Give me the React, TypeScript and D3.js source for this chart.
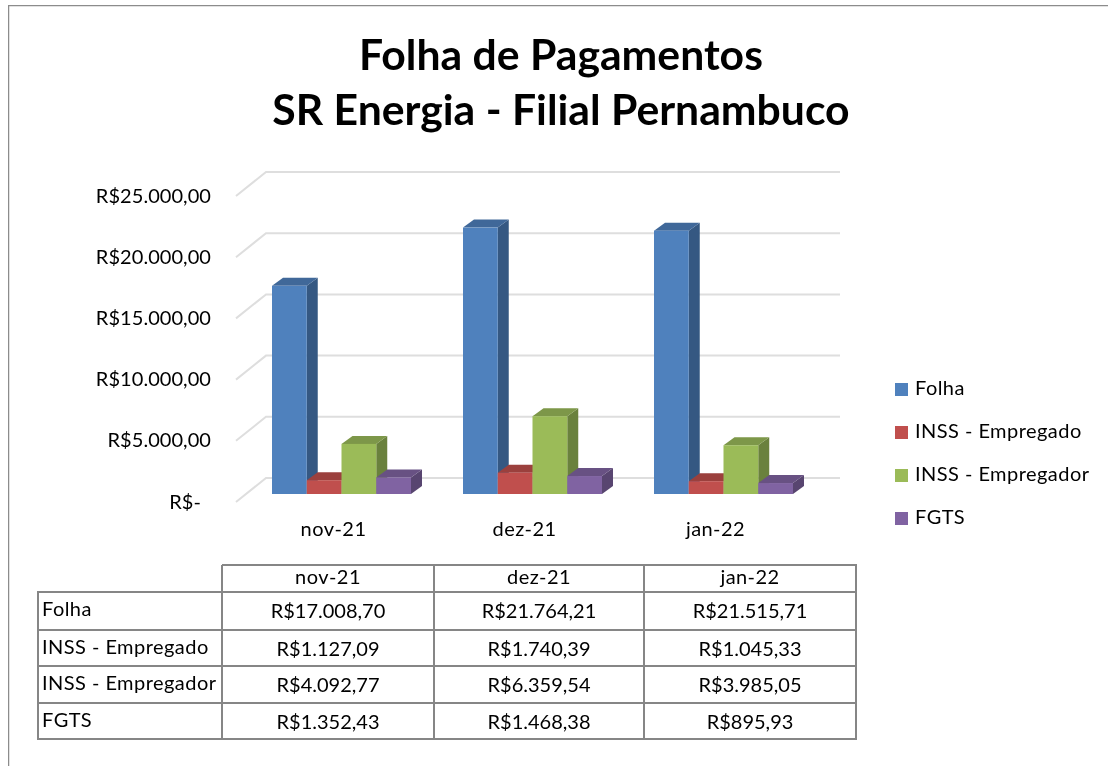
import React from "react";
import * as d3 from "d3";

const categories = ["nov-21", "dez-21", "jan-22"];
const seriesNames = ["Folha", "INSS - Empregado", "INSS - Empregador", "FGTS"];
const folha = [17008.7, 21764.21, 21515.71];
const inssEmpregado = [1127.09, 1740.39, 1045.33];
const inssEmpregador = [4092.77, 6359.54, 3985.05];
const fgts = [1352.43, 1468.38, 895.93];
const seriesValues = [folha, inssEmpregado, inssEmpregador, fgts];
const seriesColors = ["#4f81bd", "#c0504d", "#9bbb59", "#8064a2"];
const yTicks = [0, 5000, 10000, 15000, 20000, 25000];
const yTickLabels = ["R$-", "R$5.000,00", "R$10.000,00", "R$15.000,00", "R$20.000,00", "R$25.000,00"];
const titleLines = ["Folha de Pagamentos", "SR Energia - Filial Pernambuco"];

const FONT = "Lato,'Open Sans',sans-serif";
const GRID = "#dedede";
const TABLE = "#868686";
const LS = 0.45;

const y = d3.scaleLinear().domain([0, 25000]).range([494, 188]);
const x0 = d3.scaleBand<string>().domain(categories).range([246, 819]);
const x1 = d3.scaleBand<string>().domain(seriesNames).range([26, 165]);

const colLines = [222, 434, 644, 856];
const rowLines = [592, 630, 666, 703, 739];
const fmt = (v: number) =>
  "R$" + d3.format(",.2f")(v).replace(/,/g, "#").replace(".", ",").replace(/#/g, ".");

const poly = (pts: number[][]) => pts.map((p) => p.join(",")).join(" ");

function Bar({ x, w, v, color }: { x: number; w: number; v: number; color: string }) {
  const b = y(0);
  const t = y(v);
  const dx = 11;
  const dy = 8;
  const c = d3.color(color)!;
  const top = c.darker(0.6).formatHex();
  const side = c.darker(1.05).formatHex();
  return (
    <g>
      <polygon fill={side} points={poly([[x + w, b], [x + w + dx, b - dy], [x + w + dx, t - dy], [x + w, t]])} />
      <polygon fill={top} points={poly([[x, t], [x + dx, t - dy], [x + w + dx, t - dy], [x + w, t]])} />
      <rect x={x} y={t} width={w} height={b - t} fill={color} />
    </g>
  );
}

export default function App() {
  return (
    <svg
      width={1108}
      height={766}
      style={{ position: "fixed", left: 0, top: 0, background: "#fff", fontFamily: FONT, letterSpacing: LS }}
    >
      <defs>
        <filter id="soft" x="0" y="0" width="100%" height="100%">
          <feGaussianBlur stdDeviation="0.4" />
        </filter>
      </defs>
      <g filter="url(#soft)">
        <path d="M8.5,766V5.5H1108" fill="none" stroke="#8c8c8c" strokeWidth={1.5} />
        {titleLines.map((t, i) => (
          <text key={t} x={561} y={70 + i * 55} textAnchor="middle" fontSize={42.7} fontWeight={700} fill="#000" letterSpacing={0}>
            {t}
          </text>
        ))}
        {yTicks.map((t, i) => {
          const fy = y(t) + 8;
          return (
            <g key={t}>
              <path d={`M236,${fy}L266,${fy - 24}H840`} fill="none" stroke={GRID} strokeWidth={2} />
              <text x={i === 0 ? 201 : 211} y={y(t) + 14.5} textAnchor="end" fontSize={20} letterSpacing={0.05} fill="#000">
                {yTickLabels[i]}
              </text>
            </g>
          );
        })}
        {categories.map((c, ci) => (
          <g key={c} transform={`translate(${x0(c)},0)`}>
            {seriesNames.map((s, si) => (
              <Bar key={s} x={x1(s)!} w={x1.bandwidth()} v={seriesValues[si][ci]} color={seriesColors[si]} />
            ))}
            <text x={x0.bandwidth() / 2 - 8} y={536} textAnchor="middle" fontSize={20} fill="#000">
              {c}
            </text>
          </g>
        ))}
        {seriesNames.map((s, i) => (
          <g key={s}>
            <rect x={895} y={383 + i * 43} width={13} height={13} fill={seriesColors[i]} />
            <text x={915} y={395 + i * 43} fontSize={20} fill="#000">
              {s}
            </text>
          </g>
        ))}
        <g fill="none" stroke={TABLE} strokeWidth={2}>
          <path d={`M222,565H856V${rowLines[4]}H38V592H856`} />
          {rowLines.slice(1, 4).map((r) => (
            <path key={r} d={`M38,${r}H856`} />
          ))}
          {colLines.slice(0, 3).map((c) => (
            <path key={c} d={`M${c},565V${rowLines[4]}`} />
          ))}
        </g>
        {categories.map((c, i) => (
          <text key={c} x={(colLines[i] + colLines[i + 1]) / 2} y={584} textAnchor="middle" fontSize={20} fill="#000">
            {c}
          </text>
        ))}
        {seriesNames.map((s, r) => (
          <g key={s}>
            <text x={42} y={rowLines[r] + 24} fontSize={20} fill="#000">
              {s}
            </text>
            {categories.map((c, i) => (
              <text key={c} x={(colLines[i] + colLines[i + 1]) / 2} y={rowLines[r] + 26} textAnchor="middle" fontSize={20} letterSpacing={0} fill="#000">
                {fmt(seriesValues[r][i])}
              </text>
            ))}
          </g>
        ))}
      </g>
    </svg>
  );
}
